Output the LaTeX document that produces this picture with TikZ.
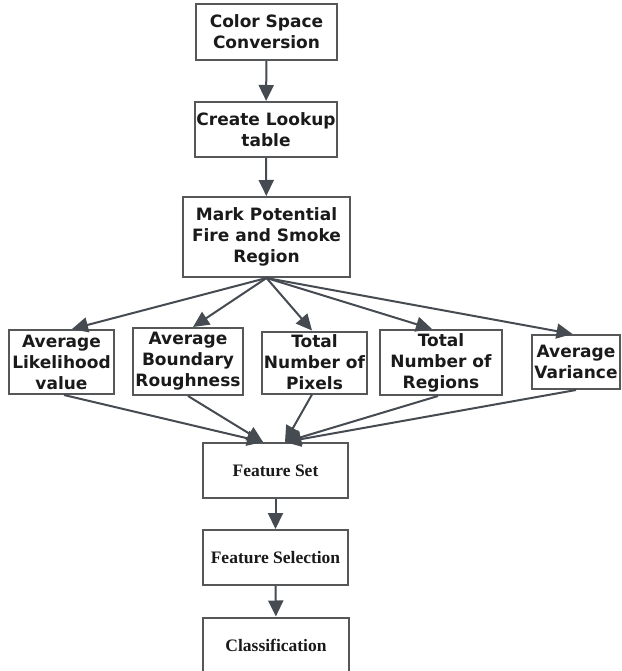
\documentclass[tikz,border=0pt]{standalone}
\usepackage{fontspec}
\setmainfont{Liberation Serif}
\newfontfamily\vsans{DejaVu Sans}
\usetikzlibrary{arrows.meta}
\definecolor{lineC}{HTML}{454B51}
\definecolor{boxC}{HTML}{555759}
\definecolor{txtC}{HTML}{1A1A1A}
\tikzset{
  sbox/.style={draw=boxC, line width=2pt, fill=white, text=txtC, align=center, inner sep=0pt,
    font=\vsans\bfseries\fontsize{17}{21}\selectfont},
  rbox/.style={draw=boxC, line width=2pt, fill=white, text=txtC, align=center, inner sep=0pt,
    font=\bfseries\fontsize{17.5}{21}\selectfont},
  conn/.style={draw=lineC, line width=2pt, -{Triangle[length=16pt,width=15pt]}}
}
\begin{document}
\begin{tikzpicture}[x=1pt,y=1pt]
\clip (0,0) rectangle (621,-671);
\fill[white] (0,0) rectangle (621,-671);
% top chain
\node[sbox, minimum width=141, minimum height=56] (csc) at (266.5,-32) {Color Space\\Conversion};
\node[sbox, minimum width=142, minimum height=55] (clt) at (266,-129.5) {Create Lookup\\table};
\node[sbox, minimum width=167, minimum height=80] (mp) at (266.5,-237) {Mark Potential\\Fire and Smoke\\Region};
% feature row
\node[sbox, minimum width=105, minimum height=64] (A) at (61.5,-362) {Average\\Likelihood\\value};
\node[sbox, minimum width=110, minimum height=67] (B) at (188,-361.5) {Average\\Boundary\\Roughness};
\node[sbox, minimum width=105, minimum height=62] (C) at (314.5,-362.5) {Total\\Number of\\Pixels};
\node[sbox, minimum width=122, minimum height=65] (D) at (441,-362.5) {Total\\Number of\\Regions};
\node[sbox, minimum width=88, minimum height=54] (E) at (576,-362) {Average\\Variance};
% bottom chain
\node[rbox, minimum width=145, minimum height=55] (fs) at (275.5,-470.5) {Feature Set};
\node[rbox, minimum width=145, minimum height=55] (fsel) at (275.5,-557.5) {Feature Selection};
\node[rbox, minimum width=146, minimum height=56] (cls) at (276,-645.5) {Classification};
% connectors
\draw[conn] (csc) -- (clt);
\draw[conn] (clt) -- (mp);
\draw[conn] (mp.south) -- ([xshift=10.5pt]A.north);
\draw[conn] (mp.south) -- ([xshift=5pt]B.north);
\draw[conn] (mp.south) -- ([xshift=-2.5pt]C.north);
\draw[conn] (mp.south) -- ([xshift=-9pt]D.north);
\draw[conn] (mp.south) -- ([xshift=-3.5pt]E.north);
\coordinate (fsL) at ([xshift=-12.5pt]fs.north);
\coordinate (fsR) at ([xshift=9.5pt]fs.north);
\draw[conn] ([xshift=2.5pt]A.south) -- (fsL);
\draw[conn] (B.south) -- (fsL);
\draw[conn] ([xshift=-2.5pt]C.south) -- (fsR);
\draw[conn] ([xshift=-3pt]D.south) -- (fsR);
\draw[conn] (E.south) -- (fsR);
\draw[conn] (fs) -- (fsel);
\draw[conn] (fsel) -- (cls);
\end{tikzpicture}
\end{document}
